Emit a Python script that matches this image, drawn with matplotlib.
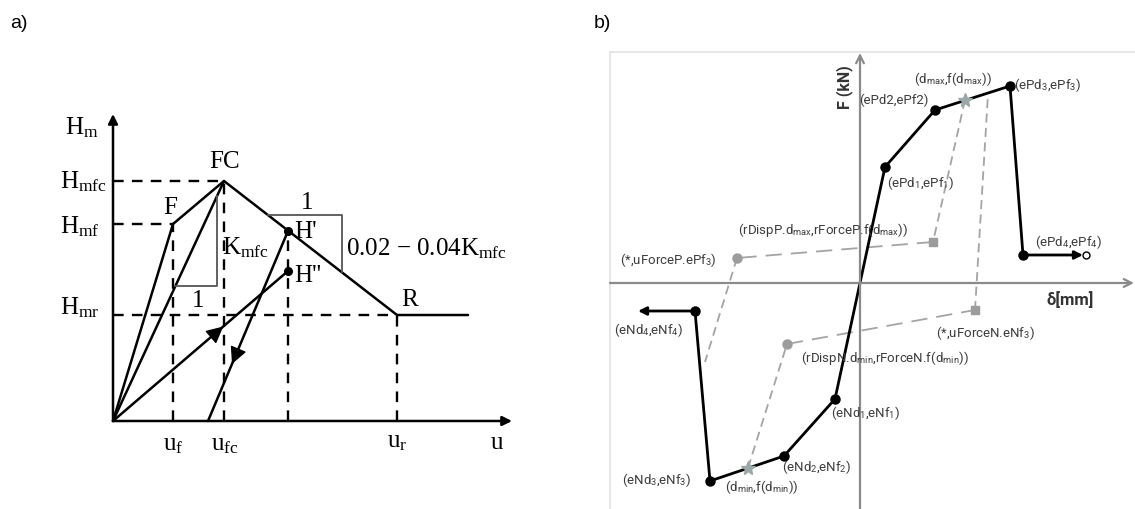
import matplotlib.pyplot as plt

plt.rcParams['font.family'] = ['Liberation Serif', 'DejaVu Serif']
plt.rcParams['mathtext.fontset'] = 'custom'
plt.rcParams['mathtext.rm'] = 'Liberation Serif'
plt.rcParams['mathtext.it'] = 'Liberation Serif:italic'
plt.rcParams['mathtext.sf'] = 'Roboto'

# ---------------- panel a: hinge backbone (u, Hm), arbitrary units
u_f, u_fc, u_h, u_r, u_end = 6.0, 11.1, 17.5, 28.4, 35.5
u_unload0 = 9.5
H_mf, H_mfc, H_mr = 19.7, 24.0, 10.6
H_p, H_pp = 19.0, 15.0
u_axis_max, H_axis_max = 39.9, 30.7

# ---------------- panel b: hysteretic model (delta [mm], F [kN])
ePd = [2.5, 7.5, 15.0, 16.3]
ePf = [11.6, 17.3, 19.7, 2.8]
eNd = [-2.5, -7.6, -15.0, -16.5]
eNf = [-11.6, -17.3, -19.8, -2.8]
pos_tail, neg_tail = 22.3, -22.2

d_max, f_dmax = 10.5, 18.3
rdispP_d, rforceP_f = 7.3, 4.1
uforceP_d, uforceP_f = -12.3, 2.5
uforceP_end = (-15.5, -7.9)
d_min, f_dmin = -11.2, -18.5
rdispN_d, rforceN_f = -7.3, -6.1
uforceN_d, uforceN_f = 11.5, -2.7
uforceN_end = (12.8, 18.9)

W, H = 1135, 510
fig = plt.figure(figsize=(W / 100, H / 100), dpi=100)

# ======================= panel a
ax = fig.add_axes([40 / W, 1 - 470 / H, 520 / W, 370 / H])
ax.set_xlim(-7.3, 44.7)
ax.set_ylim(-4.8, 32.2)
ax.axis('off')

blk = dict(color='black', lw=1.8, solid_capstyle='round')
dash = dict(color='black', lw=1.7, dashes=(4.5, 3.5))

# axes with arrows
ax.annotate('', xy=(u_axis_max, 0), xytext=(0, 0),
            arrowprops=dict(arrowstyle='-|>', lw=1.8, color='k', mutation_scale=14,
                            shrinkA=0, shrinkB=0))
ax.annotate('', xy=(0, H_axis_max), xytext=(0, 0),
            arrowprops=dict(arrowstyle='-|>', lw=1.8, color='k', mutation_scale=14,
                            shrinkA=0, shrinkB=0))

# dashed guides
ax.plot([0, u_fc], [H_mfc, H_mfc], **dash)
ax.plot([0, u_f], [H_mf, H_mf], **dash)
ax.plot([0, u_r], [H_mr, H_mr], **dash)
for uu, hh in [(u_f, H_mf), (u_fc, H_mfc), (u_h, H_p), (u_r, H_mr)]:
    ax.plot([uu, uu], [0, hh], **dash)

# backbone and branches
ax.plot([0, u_f, u_fc, u_r, u_end], [0, H_mf, H_mfc, H_mr, H_mr], **blk)
ax.plot([0, u_fc], [0, H_mfc], **blk)
ax.plot([0, u_h], [0, H_pp], **blk)
ax.plot([u_unload0, u_h], [0, H_p], **blk)
ax.plot([u_h, u_h], [H_p, H_pp], 'o', color='black', ms=5.5)

# arrowheads on the branches
def mid_arrow(p0, p1, t, size=26):
    x0, y0 = p0
    x1, y1 = p1
    xa, ya = x0 + (x1 - x0) * t, y0 + (y1 - y0) * t
    dx, dy = (x1 - x0) * 0.02, (y1 - y0) * 0.02
    ax.annotate('', xy=(xa, ya), xytext=(xa - dx, ya - dy),
                arrowprops=dict(arrowstyle='-|>', color='k', lw=1, mutation_scale=size,
                                shrinkA=0, shrinkB=0))

mid_arrow((0, 0), (u_h, H_pp), 0.63)
mid_arrow((u_h, H_p), (u_unload0, 0), 0.70)

# stiffness triangle on the secant
k_mfc = H_mfc / u_fc
tri_H_lo, tri_u_hi = 13.5, 10.4
gray = dict(color='#555555', lw=1.3)
ax.plot([tri_H_lo / k_mfc, tri_u_hi, tri_u_hi], [tri_H_lo, tri_H_lo, tri_u_hi * k_mfc], **gray)

# softening slope triangle
k_soft = (H_mfc - H_mr) / (u_r - u_fc)
sl_H, sl_u = 20.6, 22.9
u_start = u_fc + (H_mfc - sl_H) / k_soft
ax.plot([u_start, sl_u, sl_u], [sl_H, sl_H, H_mfc - k_soft * (sl_u - u_fc)], **gray)

fs = 18
ax.text(-3.1, 29.4, r'H$_{\rm m}$', fontsize=fs, ha='center', va='center')
ax.text(-5.3, 24.0, r'H$_{\rm mfc}$', fontsize=fs, ha='left', va='center')
ax.text(-5.3, 19.5, r'H$_{\rm mf}$', fontsize=fs, ha='left', va='center')
ax.text(-5.3, 11.4, r'H$_{\rm mr}$', fontsize=fs, ha='left', va='center')
ax.text(u_fc + 0.1, H_mfc + 0.9, 'FC', fontsize=fs, ha='center', va='bottom')
ax.text(u_f - 0.3, H_mf + 0.6, 'F', fontsize=fs, ha='center', va='bottom')
ax.text(u_h + 0.6, H_p, "H'", fontsize=fs, ha='left', va='center')
ax.text(u_h + 0.6, H_pp - 0.4, "H''", fontsize=fs, ha='left', va='center')
ax.text(u_r + 0.4, H_mr + 0.5, 'R', fontsize=fs, ha='left', va='bottom')
ax.text(tri_u_hi + 0.5, 17.4, r'K$_{\rm mfc}$', fontsize=fs, ha='left', va='center')
ax.text(8.5, 12.1, '1', fontsize=fs, ha='center', va='center')
ax.text(19.4, 21.9, '1', fontsize=fs, ha='center', va='center')
ax.text(sl_u + 0.4, 17.3, r'0.02 $-$ 0.04K$_{\rm mfc}$', fontsize=fs, ha='left', va='center')
ax.text(u_f, -1.2, r'u$_{\rm f}$', fontsize=fs, ha='center', va='top')
ax.text(u_fc + 0.1, -1.2, r'u$_{\rm fc}$', fontsize=fs, ha='center', va='top')
ax.text(u_r, -0.9, r'u$_{\rm r}$', fontsize=fs, ha='center', va='top')
ax.text(38.4, -1.0, 'u', fontsize=fs, ha='center', va='top')

# ======================= panel b
bx = fig.add_axes([610 / W, 0, 525 / W, 457 / H])
bx.set_xlim(-25.0, 27.5)
bx.set_ylim(-22.6, 23.1)
bx.set_xticks([])
bx.set_yticks([])
for s in ['right', 'bottom']:
    bx.spines[s].set_visible(False)
for s in ['left', 'top']:
    bx.spines[s].set_color('#e3e3e3')
    bx.spines[s].set_linewidth(1.2)

axc = '#8a8a8a'
bx.annotate('', xy=(27.4, 0), xytext=(-25.0, 0),
            arrowprops=dict(arrowstyle='->', color=axc, lw=1.6, mutation_scale=14,
                            shrinkA=0, shrinkB=0))
bx.annotate('', xy=(0, 23.0), xytext=(0, -22.6),
            arrowprops=dict(arrowstyle='->', color=axc, lw=1.6, mutation_scale=14,
                            shrinkA=0, shrinkB=0))

# dashed hysteresis path
gd = '#a4a4a4'
bx.plot([d_max, rdispP_d], [f_dmax, rforceP_f], color=gd, lw=1.3, dashes=(5, 3))
bx.plot([rdispP_d, uforceP_d], [rforceP_f, uforceP_f], color=gd, lw=1.3, dashes=(9, 5))
bx.plot([uforceP_d, uforceP_end[0]], [uforceP_f, uforceP_end[1]], color=gd, lw=1.3, dashes=(5, 3))
bx.plot([d_min, rdispN_d], [f_dmin, rforceN_f], color=gd, lw=1.3, dashes=(5, 3))
bx.plot([rdispN_d, uforceN_d], [rforceN_f, uforceN_f], color=gd, lw=1.3, dashes=(9, 5))
bx.plot([uforceN_d, uforceN_end[0]], [uforceN_f, uforceN_end[1]], color=gd, lw=1.3, dashes=(5, 3))

# backbone
bb_d = eNd[::-1] + [0] + ePd
bb_f = eNf[::-1] + [0] + ePf
bx.plot(bb_d, bb_f, color='black', lw=2.0, solid_joinstyle='round')
bx.plot(ePd + eNd, ePf + eNf, 'o', color='black', ms=6.5)
bx.annotate('', xy=(pos_tail, ePf[3]), xytext=(ePd[3], ePf[3]),
            arrowprops=dict(arrowstyle='-|>', color='k', lw=2.0, mutation_scale=12,
                            shrinkA=0, shrinkB=0))
bx.plot([pos_tail + 0.3], [ePf[3]], 'o', mfc='white', mec='black', ms=5, mew=1)
bx.annotate('', xy=(neg_tail, eNf[3]), xytext=(eNd[3], eNf[3]),
            arrowprops=dict(arrowstyle='-|>', color='k', lw=2.0, mutation_scale=12,
                            shrinkA=0, shrinkB=0))

# grey state markers
gm = '#9c9c9c'
bx.plot([d_max, d_min], [f_dmax, f_dmin], marker='*', ls='none', color='#9aa8a8', ms=10)
bx.plot([rdispP_d, uforceN_d], [rforceP_f, uforceN_f], marker='s', ls='none', color=gm, ms=5.5)
bx.plot([uforceP_d, rdispN_d], [uforceP_f, rforceN_f], marker='o', ls='none', color=gm, ms=6.5)

tc = '#3c3c3c'
sf = dict(fontsize=9.5, color=tc, family=['Roboto', 'DejaVu Sans'], va='center')
labels_b = [
    (r'(d$_{\mathsf{max}}$,f(d$_{\mathsf{max}}$))', 9.3, 20.5, 'center'),
    (r'(ePd$_{\mathsf{3}}$,ePf$_{\mathsf{3}}$)', 15.4, 19.9, 'left'),
    ('(ePd2,ePf2)', 3.4, 18.4, 'center'),
    (r'(ePd$_{\mathsf{1}}$,ePf$_{\mathsf{1}}$)', 6.0, 10.1, 'center'),
    (r'(rDispP.d$_{\mathsf{max}}$,rForceP.f(d$_{\mathsf{max}}$))', -3.7, 5.4, 'center'),
    (r'(*,uForceP.ePf$_{\mathsf{3}}$)', -19.2, 2.4, 'center'),
    (r'(ePd$_{\mathsf{4}}$,ePf$_{\mathsf{4}}$)', 17.5, 4.2, 'left'),
    (r'(eNd$_{\mathsf{4}}$,eNf$_{\mathsf{4}}$)', -21.1, -4.6, 'center'),
    (r'(*,uForceN.eNf$_{\mathsf{3}}$)', 12.5, -4.9, 'center'),
    (r'(rDispN.d$_{\mathsf{min}}$,rForceN.f(d$_{\mathsf{min}}$))', 2.5, -7.4, 'center'),
    (r'(eNd$_{\mathsf{1}}$,eNf$_{\mathsf{1}}$)', 0.6, -12.9, 'center'),
    (r'(eNd$_{\mathsf{2}}$,eNf$_{\mathsf{2}}$)', -4.3, -18.3, 'center'),
    (r'(eNd$_{\mathsf{3}}$,eNf$_{\mathsf{3}}$)', -20.3, -19.6, 'center'),
    (r'(d$_{\mathsf{min}}$,f(d$_{\mathsf{min}}$))', -9.8, -20.3, 'center'),
]
for txt, x, y, ha in labels_b:
    bx.text(x, y, txt, ha=ha, **sf)

bx.text(21.0, -1.6, 'δ[mm]', fontsize=12, color='#333333', weight='bold',
        family=['Roboto', 'DejaVu Sans'], ha='center', va='center')
bx.text(-1.5, 19.7, 'F (kN)', fontsize=11.5, color='#333333', weight='bold', rotation=90,
        family=['Roboto', 'DejaVu Sans'], ha='center', va='center')

# panel letters
fig.text(10 / W, 1 - 24 / H, 'a)', fontsize=14, family=['Liberation Sans', 'DejaVu Sans'],
         ha='left', va='center')
fig.text(594 / W, 1 - 24 / H, 'b)', fontsize=14, family=['Liberation Sans', 'DejaVu Sans'],
         ha='left', va='center')

fig.savefig('out.png', dpi=100)
